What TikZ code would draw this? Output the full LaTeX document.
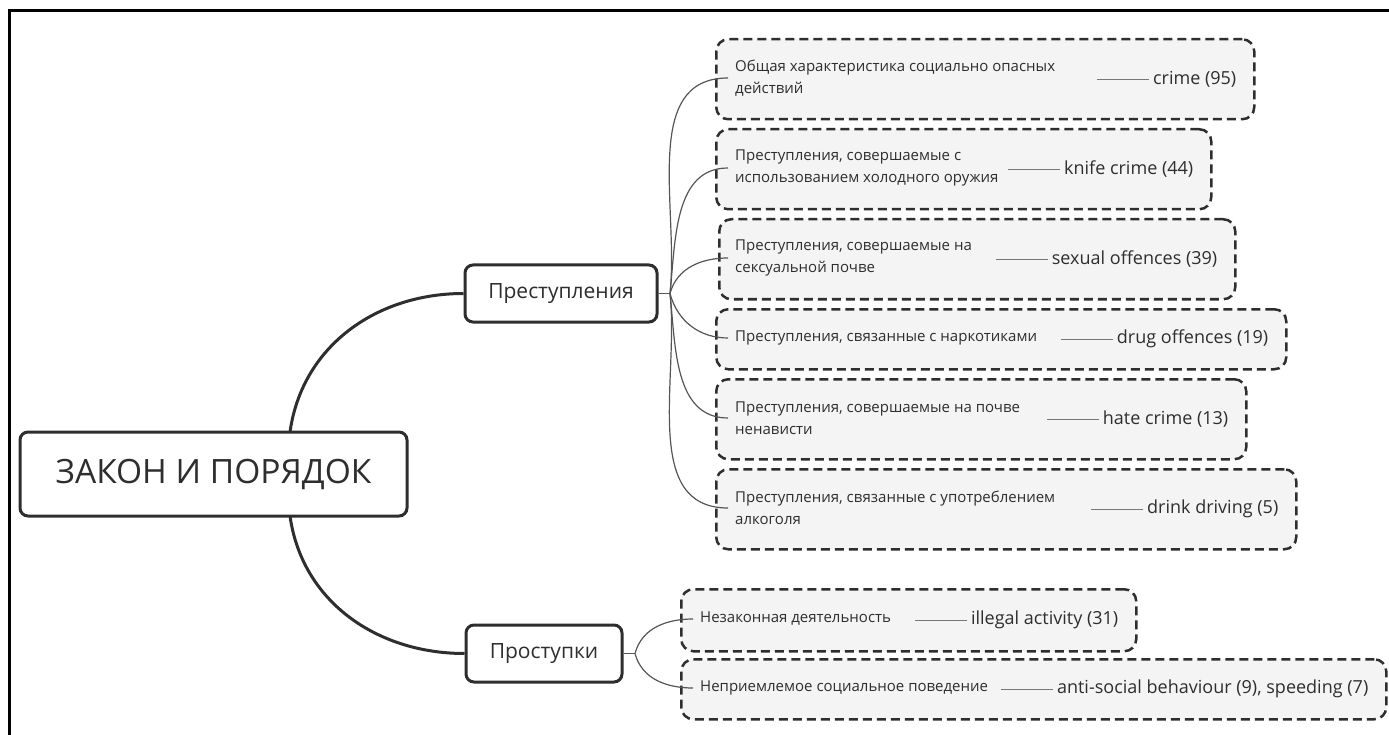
\documentclass[tikz,border=0pt]{standalone}
\usepackage{fontspec}
\setmainfont{Open Sans}
\definecolor{ink}{HTML}{2E2E2E}
\definecolor{thin}{HTML}{555555}
\definecolor{boxfill}{HTML}{F4F4F4}
\tikzset{
  trunk/.style={draw=ink, line width=3pt},
  twig/.style={draw=thin, line width=1.2pt},
  mainbox/.style={draw=ink, line width=3pt, rounded corners=8pt, fill=white, text=ink, inner sep=0pt},
  dbox/.style={draw=ink, dash pattern=on 9pt off 5pt, line width=2.5pt, rounded corners=12pt, fill=boxfill, anchor=north west, inner sep=0pt},
  desc/.style={anchor=west, align=left, font=\fontsize{15}{22}\selectfont, text=ink, inner sep=0pt},
  lab/.style={anchor=east, font=\fontsize{18}{20}\selectfont, text=ink, inner sep=0pt},
}
\begin{document}
\begin{tikzpicture}[x=1pt,y=-1pt]
\useasboundingbox (0,0) rectangle (1389,735);
\draw[line width=3pt, black] (9.5,735) -- (9.5,11) -- (1389,11);

% main nodes
\node[mainbox, minimum width=387, minimum height=84, font=\fontsize{33.5}{40}\selectfont] (root) at (213.5,474) {ЗАКОН И ПОРЯДОК};
\node[mainbox, minimum width=192, minimum height=57, font=\fontsize{21}{24}\selectfont] (crimes) at (561,293.5) {Преступления};
\node[mainbox, minimum width=156, minimum height=57, font=\fontsize{21}{24}\selectfont] (misd) at (544,653.5) {Проступки};

\coordinate (rtop) at (290,432);
\coordinate (rbot) at (290,516);
\draw[trunk] (rtop) to[out=82,in=180] (crimes.west);
\draw[trunk] (rbot) to[out=-82,in=180] (misd.west);

% hubs
\coordinate (hubA) at (670,293.5);
\coordinate (hubB) at (635,653.5);
\draw[twig] (crimes.east) -- (hubA);
\draw[twig] (misd.east) -- (hubB);

% dashed boxes
\node[dbox, minimum width=538, minimum height=80] (b1) at (715,38) {};
\node[dbox, minimum width=495, minimum height=80] (b2) at (715,128) {};
\node[dbox, minimum width=516, minimum height=80] (b3) at (718,218) {};
\node[dbox, minimum width=570, minimum height=60] (b4) at (715,308) {};
\node[dbox, minimum width=530, minimum height=80] (b5) at (715,378) {};
\node[dbox, minimum width=580, minimum height=80] (b6) at (715,468) {};
\node[dbox, minimum width=455, minimum height=62] (b7) at (680,588) {};
\node[dbox, minimum width=705, minimum height=60] (b8) at (680,658) {};

% descriptions
\node[desc] (d1) at (735,78) {Общая характеристика социально опасных\\действий};
\node[desc] (d2) at (735,168) {Преступления, совершаемые с\\использованием холодного оружия};
\node[desc] (d3) at (735,258) {Преступления, совершаемые на\\сексуальной почве};
\node[desc] (d4) at (735,338) {Преступления, связанные с наркотиками};
\node[desc] (d5) at (735,418) {Преступления, совершаемые на почве\\ненависти};
\node[desc] (d6) at (735,508) {Преступления, связанные с употреблением\\алкоголя};
\node[desc] (d7) at (700,619) {Незаконная деятельность};
\node[desc] (d8) at (700,688) {Неприемлемое социальное поведение};

% labels (right aligned inside their boxes)
\node[lab] (l1) at ([xshift=-19pt]b1.east) {crime (95)};
\node[lab] (l2) at ([xshift=-19pt]b2.east) {knife crime (44)};
\node[lab] (l3) at ([xshift=-19pt]b3.east) {sexual offences (39)};
\node[lab] (l4) at ([xshift=-19pt]b4.east) {drug offences (19)};
\node[lab] (l5) at ([xshift=-19pt]b5.east) {hate crime (13)};
\node[lab] (l6) at ([xshift=-19pt]b6.east) {drink driving (5)};
\node[lab] (l7) at ([xshift=-19pt]b7.east) {illegal activity (31)};
\node[lab] (l8) at ([xshift=-19pt]b8.east) {anti-social behaviour (9), speeding (7)};

\foreach \i in {1,...,8} {
  \draw[twig, draw=thin!80] ([xshift=-4pt]l\i.west) -- ++(-52,0);
}

% fan-out curves
\foreach \i/\o in {1/84,2/84,3/75,4/-75,5/-84,6/-84} {
  \coordinate (e\i) at ([xshift=-7pt]d\i.west);
  \draw[twig] (hubA) to[out=\o,in=180] (e\i);
}
\foreach \i/\o in {7/75,8/-75} {
  \coordinate (e\i) at ([xshift=-7pt]d\i.west);
  \draw[twig] (hubB) to[out=\o,in=180] (e\i);
}
\end{tikzpicture}
\end{document}
